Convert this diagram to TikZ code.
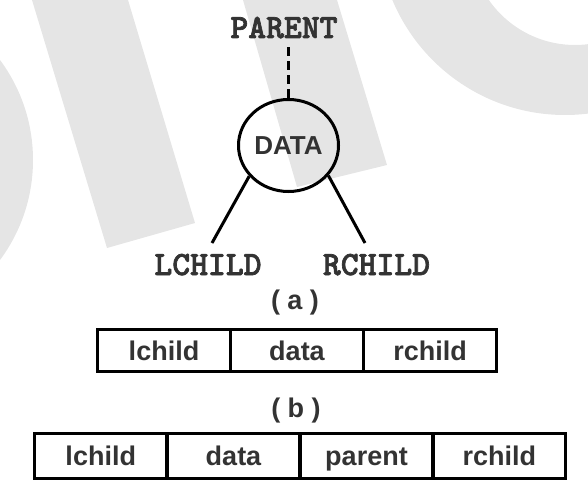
\documentclass[tikz,border=0pt]{standalone}
\usepackage{fontspec}
\setmainfont{Liberation Sans}
\newfontfamily\treefont{lmmonolt10-bold.otf}[FakeBold=2]
\usetikzlibrary{shapes.geometric}
\definecolor{ink}{HTML}{333333}
\definecolor{wmark}{HTML}{E5E5E5}

\begin{document}
\begin{tikzpicture}[x=1pt,y=-1pt,
	treetext/.style={text=ink,font=\treefont\fontsize{34}{34}\selectfont,anchor=base,inner sep=5pt},
	subcap/.style={text=ink,font=\bfseries\fontsize{27}{27}\selectfont},
	cell/.style={draw,line width=3.3pt,minimum width=133pt,minimum height=42pt,inner sep=0pt,
		text height=19pt,text depth=0pt,text=ink,font=\bfseries\fontsize{27}{27}\selectfont},
	link/.style={line width=3pt}]
	\useasboundingbox (0,0) rectangle (588,500);
	% watermark
	\begin{scope}
		\clip (0,0) rectangle (588,500);
		\fill[wmark] (32,0) -- (128,0) -- (195,223) -- (107,248) -- cycle;
		\fill[wmark] (243,0) -- (337,0) -- (387,165) -- (297,187) -- cycle;
		\fill[wmark] (-135,160) circle (168);
		\fill[wmark,even odd rule] (565,-72) circle (187) (575,-60) circle (105);
	\end{scope}
	% (a) tree node
	\node[treetext] (P) at (284,38) {PARENT};
	\node[ellipse,draw,line width=3pt,minimum width=100pt,minimum height=92pt,inner sep=0pt,
		text=ink,font=\bfseries\fontsize{26}{26}\selectfont] (D) at (288.5,145.5) {DATA};
	\node[treetext] (L) at (208,275) {LCHILD};
	\node[treetext] (R) at (376.5,275) {RCHILD};
	\coordinate (l) at (212,243);
	\coordinate (r) at (365,243);
	\draw[link,dash pattern=on 9pt off 5pt] (D.north) -- (D.north |- P.south);
	\draw[link] (D.218) -- (l);
	\draw[link] (D.323) -- (r);
	\node[subcap] (a) at (295,303) {( a )};
	% (b) binary list
	\node[cell] (a1) at (164,350.5) {lchild};
	\node[cell] (a2) at (297,350.5) {data};
	\node[cell] (a3) at (430,350.5) {rchild};
	\node[subcap] (b) at (296,411) {( b )};
	% (c) triple list
	\node[cell,minimum height=45pt] (b1) at (100.75,456) {lchild};
	\node[cell,minimum height=45pt] (b2) at (233.5,456) {data};
	\node[cell,minimum height=45pt] (b3) at (366.5,456) {parent};
	\node[cell,minimum height=45pt] (b4) at (499.25,456) {rchild};
\end{tikzpicture}
\end{document}
